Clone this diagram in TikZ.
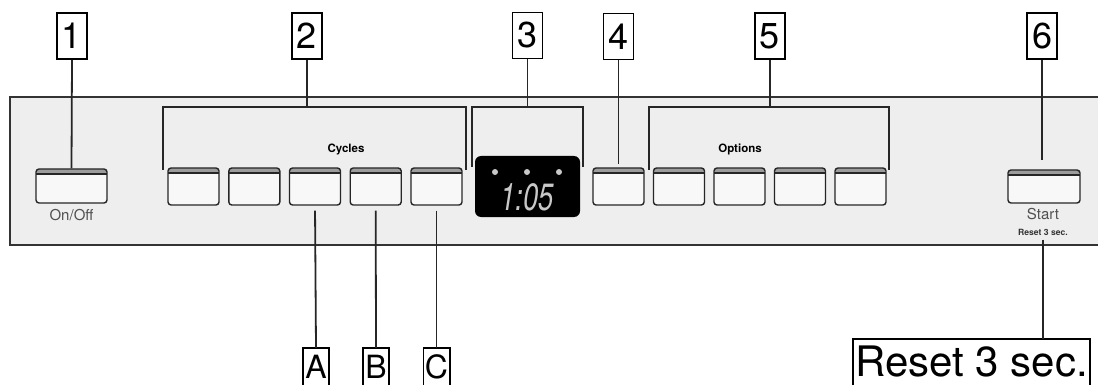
\documentclass[tikz,border=0pt]{standalone}
\usepackage{fontspec}
\setmainfont{TeX Gyre Heros}
\usetikzlibrary{positioning}
\definecolor{panelgray}{HTML}{EEEEEE}
\definecolor{stripgray}{HTML}{9C9C9C}
\definecolor{labelgray}{HTML}{505050}
\definecolor{segmentgray}{HTML}{C8C8C8}

\begin{document}
\begin{tikzpicture}[x=1pt,y=-1pt,
  callout/.style={draw,line width=1.6pt,fill=white,inner sep=0pt,
    minimum width=30pt,minimum height=46pt,font=\fontsize{36}{40}\selectfont},
  % boxes that run off the bottom edge: frame drawn open below
  opencallout/.style={inner sep=0pt,minimum height=37pt,font=\fontsize{32}{36}\selectfont},
  frame/.style={line width=1.6pt},
  key/.style={draw=black!85,line width=1.4pt,rounded corners=3pt,
    fill=panelgray!40!white,minimum width=51pt,minimum height=37pt,inner sep=0pt,
    path picture={
      \fill[stripgray] (path picture bounding box.north west)
        rectangle ([yshift=-5pt]path picture bounding box.north east);
      \draw[line width=1.2pt] ([yshift=-5pt]path picture bounding box.north west)
        -- ([yshift=-5pt]path picture bounding box.north east);}},
  lead/.style={line width=1.8pt,black!85},
  panellabel/.style={text=labelgray,font=\fontsize{15}{17}\selectfont},
  grouplabel/.style={font=\bfseries\fontsize{11.5}{13}\selectfont}]
\useasboundingbox (0,0) rectangle (1098,385);
\clip (0,0) rectangle (1098,385);
% panel
\draw[line width=1.5pt,black!80,fill=panelgray] (10,97) rectangle (1120,245);
% keys
\node[key,minimum width=71pt,minimum height=34pt] (onoff) at (71.5,186) {};
\node[panellabel] (onofftxt) at (71.5,215) {On/Off};
\node[key] (k1) at (193.5,186.5) {};
\node[key] (k2) at (254.3,186.5) {};
\node[key] (k3) at (315,186.5) {};
\node[key] (k4) at (375.7,186.5) {};
\node[key] (k5) at (436.5,186.5) {};
\node[grouplabel] (cycles) at (346,149) {Cycles};
\node[key] (opt0) at (618.5,186.5) {};
\node[key] (opt1) at (679,186.5) {};
\node[key] (opt2) at (739.5,186.5) {};
\node[key] (opt3) at (800,186.5) {};
\node[key] (opt4) at (860.5,186.5) {};
\node[grouplabel] (options) at (740,149) {Options};
\node[key,minimum width=72pt,minimum height=33pt] (start) at (1044,186.5) {};
\node[panellabel] (starttxt) at (1043,214) {Start};
\node[font=\bfseries\fontsize{8.6}{10}\selectfont,text=black!80] (resetsmall) at (1043,232) {Reset 3 sec.};
% display
\node[fill=black,rounded corners=6pt,minimum width=105pt,minimum height=61pt] (disp) at (527.5,186.5) {};
\fill[segmentgray] (495,172) circle (3pt) (527,172) circle (3pt) (559,172) circle (3pt);
\node[text=segmentgray,font=\itshape\fontsize{38}{42}\selectfont] (time) at (527,197) {\scalebox{0.72}[1]{1:05}};
% brackets
\coordinate (b2) at (307,107);
\coordinate (b3) at (527.5,107);
\coordinate (b5) at (770,107);
\draw[lead] (163,170) -- (163,107) -- (466,107) -- (466,170);
\draw[lead] (472,167) -- (472,107) -- (583,107) -- (583,167);
\draw[lead] (649,170) -- (649,107) -- (889,107) -- (889,170);
% callouts
\node[callout] (c1) at (72,36) {1};
\node[callout] (c2) at (307,36) {2};
\node[callout] (c3) at (527.5,35.5) {3};
\node[callout] (c4) at (618.5,36.5) {4};
\node[callout] (c5) at (770,36) {5};
\node[callout] (c6) at (1042,36) {6};
\draw[lead] (c1.south) -- (onoff.north);
\draw[lead] (c2.south) -- (b2);
\draw[lead] (c3.south) -- (b3);
\draw[lead,shorten >=3pt] (c4.south) -- (opt0.north);
\draw[lead] (c5.south) -- (b5);
\draw[lead] (c6.south) -- (c6.south |- 0,160);
\node[opencallout,minimum width=26pt] (la) at (316,366.5) {A};
\node[opencallout,minimum width=26pt] (lb) at (376,366.5) {B};
\node[opencallout,minimum width=26pt] (lc) at (436.5,366.5) {C};
\draw[frame] ([yshift=-4pt]la.south west) |- (la.north east) -- ([yshift=-4pt]la.south east);
\draw[frame] ([yshift=-4pt]lb.south west) |- (lb.north east) -- ([yshift=-4pt]lb.south east);
\draw[frame] ([yshift=-4pt]lc.south west) |- (lc.north east) -- ([yshift=-4pt]lc.south east);
\draw[lead,shorten <=5pt] (k3.south) -- (la.north);
\draw[lead,shorten <=5pt] (k4.south) -- (lb.north);
\draw[lead,shorten <=5pt] (k5.south) -- (lc.north);
\node[opencallout,minimum width=237pt,minimum height=46pt,font=\fontsize{42}{46}\selectfont] (resetbig) at (971.5,362) {Reset 3 sec.};
\draw[frame] ([yshift=-4pt]resetbig.south west) |- (resetbig.north east) -- ([yshift=-4pt]resetbig.south east);
\draw[lead,shorten <=1pt] (resetsmall.south -| 1043,0) -- (1043,0 |- resetbig.north);
\end{tikzpicture}
\end{document}
